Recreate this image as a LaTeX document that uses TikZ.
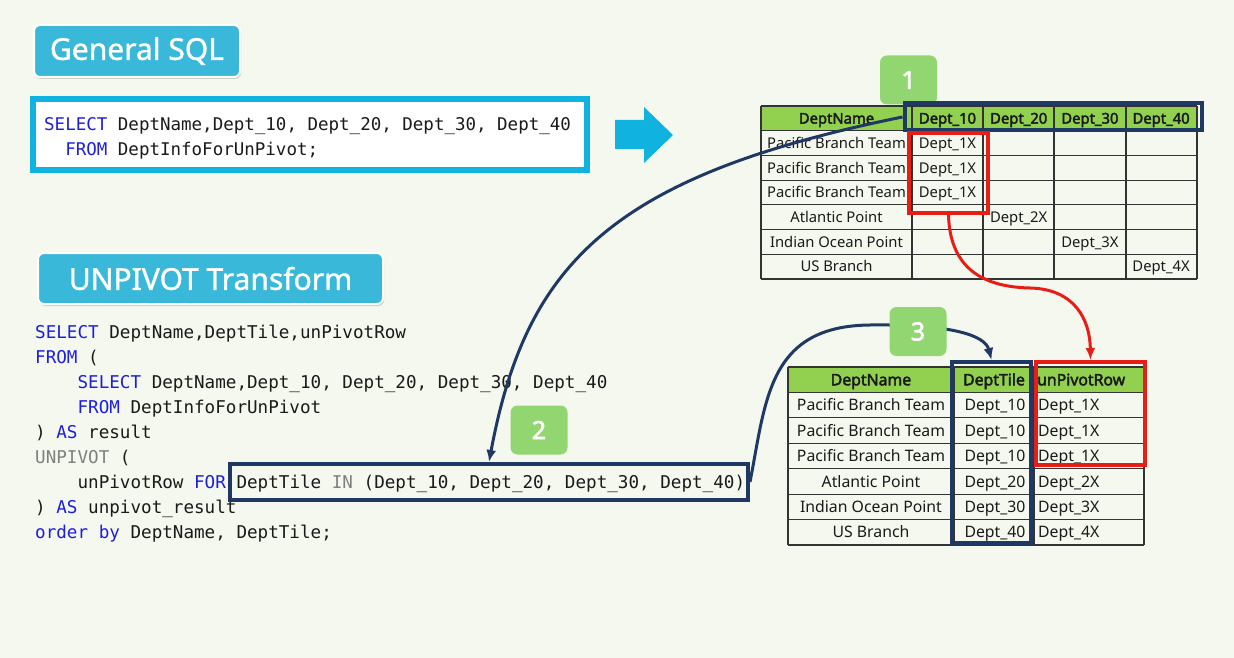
\documentclass[tikz,border=0pt]{standalone}
\usepackage{fontspec}
\setmainfont{Noto Sans}[AutoFakeBold=2.5]
\newfontfamily\btnfont{Noto Sans}[FakeBold=1.2]
\newfontfamily\codefont{DejaVu Sans Mono}
\usetikzlibrary{arrows.meta,shadows}
\definecolor{bgpaper}{RGB}{244,248,238}
\definecolor{sqlcyan}{RGB}{16,178,224}
\definecolor{btncyan}{RGB}{58,184,218}
\definecolor{navy}{RGB}{31,56,100}
\definecolor{hlred}{RGB}{232,30,22}
\definecolor{hdrgreen}{RGB}{146,208,80}
\definecolor{badgegreen}{RGB}{145,214,112}
\definecolor{kwblue}{RGB}{30,30,225}
\definecolor{kwgray}{RGB}{128,128,128}
\definecolor{ink}{RGB}{26,26,26}
\newcommand{\kw}[1]{\textcolor{kwblue}{#1}}
\newcommand{\gy}[1]{\textcolor{kwgray}{#1}}
\newcommand{\ind}{\hphantom{0000}}
\tikzset{
  titlebtn/.style={fill=btncyan, draw=white, line width=2, rounded corners=6, text=white,
    inner sep=0, font=\btnfont\fontsize{30}{32}\selectfont,
    drop shadow={shadow xshift=1pt, shadow yshift=-2pt, opacity=.35, fill=black!50}},
  codeline/.style={anchor=base west, inner sep=0, text=ink, font=\codefont\fontsize{17.5}{25}\selectfont},
  codeline2/.style={codeline, font=\codefont\fontsize{17.6}{25}\selectfont},
  cellline/.style={draw=black!80, line width=1.2},
  tabcell/.style={anchor=base, inner sep=0, text=ink, font=\fontsize{14.8}{16}\selectfont},
  tabhead/.style={tabcell, font=\bfseries\fontsize{14.8}{16}\selectfont},
  bigcell/.style={anchor=base, inner sep=0, text=ink, font=\fontsize{15.8}{17}\selectfont},
  bighead/.style={bigcell, font=\bfseries\fontsize{15.8}{17}\selectfont},
  navybox/.style={draw=navy, line width=4, inner sep=0},
  redbox/.style={draw=hlred, line width=4, inner sep=0},
  navyarrow/.style={draw=navy, line width=3, -{Latex[length=12pt,width=10pt]}},
  redarrow/.style={draw=hlred, line width=3, -{Latex[length=12pt,width=10pt]}},
  badge/.style={fill=badgegreen, rounded corners=7, minimum width=57, minimum height=49,
    inner sep=0, text=white, font=\bfseries\fontsize{25}{27}\selectfont}
}
\begin{document}
\begin{tikzpicture}[x=1pt,y=-1pt]
\useasboundingbox (0,0) rectangle (1234,658);
\fill[bgpaper] (0,0) rectangle (1234,658);

% general query
\node[titlebtn, minimum width=206, minimum height=52] (gensql) at (137,51) {General SQL};
\node[draw=sqlcyan, line width=6, fill=white, minimum width=554, minimum height=71, inner sep=0] (gencode) at (310,134.5) {};
\node[codeline] (g1) at (44,130.3) {\kw{SELECT} DeptName,Dept\_10, Dept\_20, Dept\_30, Dept\_40};
\node[codeline] (g2) at (44,155.3) {\hphantom{00}\kw{FROM} DeptInfoForUnPivot;};
\fill[sqlcyan] (615,120) -- (644,120) -- (644,107) -- (673,135) -- (644,163) -- (644,149) -- (615,149) -- cycle;

% unpivot query
\node[titlebtn, minimum width=345, minimum height=51] (unpvt) at (210.5,278.5) {UNPIVOT Transform};
\node[codeline2] (u1) at (35,338.3) {\kw{SELECT} DeptName,DeptTile,unPivotRow};
\node[codeline2] (u2) at (35,363.3) {\kw{FROM} (};
\node[codeline2] (u3) at (35,388.3) {\ind\kw{SELECT} DeptName,Dept\_10, Dept\_20, Dept\_30, Dept\_40};
\node[codeline2] (u4) at (35,413.3) {\ind\kw{FROM} DeptInfoForUnPivot};
\node[codeline2] (u5) at (35,438.3) {) \kw{AS} result};
\node[codeline2] (u6) at (35,463.3) {\gy{UNPIVOT} (};
\node[codeline2] (u7) at (35,488.3) {\ind unPivotRow \kw{FOR} DeptTile \gy{IN} (Dept\_10, Dept\_20, Dept\_30, Dept\_40)};
\node[codeline2] (u8) at (35,513.3) {) \kw{AS} unpivot\_result};
\node[codeline2] (u9) at (35,538.3) {\kw{order} \kw{by} DeptName, DeptTile;};

% pivoted table
\fill[hdrgreen] (761,106) rectangle (1197,130.7);
\foreach \x in {761,912,983,1054,1126,1197}
  \draw[cellline] (\x,106) -- (\x,279);
\foreach \k in {0,...,7}
  \draw[cellline] (761,106+24.7*\k) -- (1197,106+24.7*\k);
\foreach \h/\x [count=\i] in {DeptName/836.5,Dept\_10/947.5,Dept\_20/1018.7,Dept\_30/1089.9,Dept\_40/1161.1}
  \node[tabhead] (pvh-\i) at (\x,123.6) {\h};
\foreach \nm/\col [count=\k] in {Pacific Branch Team/1,Pacific Branch Team/1,Pacific Branch Team/1,Atlantic Point/2,Indian Ocean Point/3,US Branch/4}{
  \node[tabcell] (pvn-\k) at (836.5,123.6+24.7*\k) {\nm};
  \node[tabcell] (pvv-\k) at (876.3+71.2*\col,123.6+24.7*\k) {Dept\_\col X};
}

% unpivoted table
\fill[hdrgreen] (788,367) rectangle (1144,392.4);
\foreach \x in {788,954,1034,1144}
  \draw[cellline] (\x,367) -- (\x,545);
\foreach \k in {0,...,7}
  \draw[cellline] (788,367+25.43*\k) -- (1144,367+25.43*\k);
\node[bighead] (uph-1) at (871,385.3) {DeptName};
\node[bighead] (uph-2) at (994,385.3) {DeptTile};
\node[bighead, anchor=base west] (uph-3) at (1037,385.3) {unPivotRow};
\foreach \nm/\col [count=\k] in {Pacific Branch Team/1,Pacific Branch Team/1,Pacific Branch Team/1,Atlantic Point/2,Indian Ocean Point/3,US Branch/4}{
  \node[bigcell] (upn-\k) at (871,385.3+25.43*\k) {\nm};
  \node[bigcell] (upt-\k) at (995,385.3+25.43*\k) {Dept\_\col0};
  \node[bigcell, anchor=base west] (upv-\k) at (1038,385.3+25.43*\k) {Dept\_\col X};
}

% highlights
\node[navybox, minimum width=518, minimum height=36] (inbox) at (489,482) {};
\node[badge] (num1) at (908.5,80) {1};
\node[navybox, minimum width=297, minimum height=27] (hdrbox) at (1053,117) {};
\node[redbox, minimum width=79, minimum height=80] (redA) at (948.5,173) {};
\node[navybox, minimum width=79, minimum height=181] (tilebox) at (991.5,452.5) {};
\node[redbox, minimum width=109, minimum height=103] (redB) at (1090.5,413.5) {};

% arrows
\draw[navyarrow] (hdrbox.west) .. controls (611,176) and (526,264) .. (inbox.north);
\draw[navyarrow] (inbox.east) .. controls (766,400) and (768,326) .. (870,325)
  .. controls (950,324) and (985,335) .. (tilebox.north);
\draw[redarrow] (redA.south) .. controls (950,270) and (985,287) .. (1030,288)
  .. controls (1075,289) and (1090,320) .. (redB.north);

\node[badge] (num2) at (539,430) {2};
\node[badge] (num3) at (918,331.5) {3};
\end{tikzpicture}
\end{document}
